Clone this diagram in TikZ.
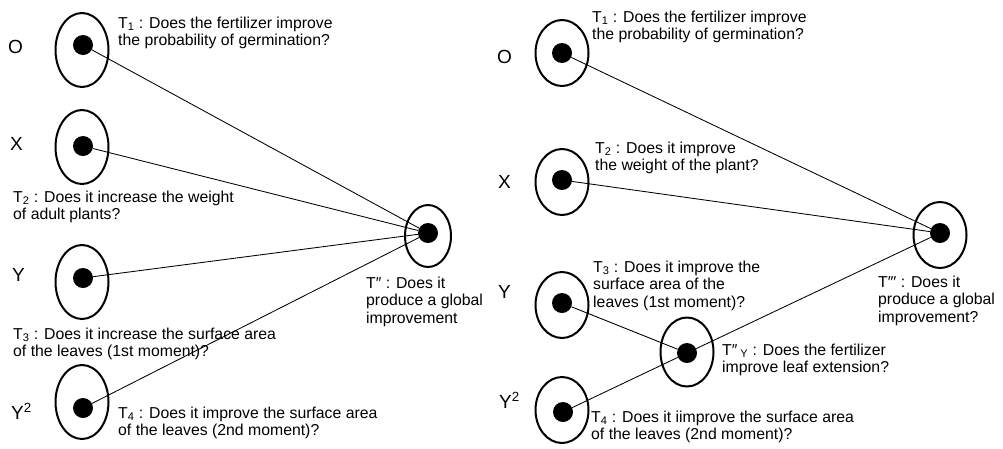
\documentclass[tikz,border=0pt]{standalone}
\usepackage{fontspec}
\setmainfont{Liberation Sans}
\usetikzlibrary{shapes.geometric}
\newcommand{\sub}[1]{\textsubscript{#1}}
\begin{document}
% text blocks are placed by the baseline of their last line
\begin{tikzpicture}[x=1pt,y=-1pt,
  ring/.style={draw,line width=2pt,ellipse,inner sep=0pt,minimum width=53pt,minimum height=66pt},
  bigring/.style={ring,minimum height=74pt},
  dot/.style={circle,fill=black,inner sep=0pt,minimum size=20pt},
  link/.style={line width=0.85pt},
  txt/.style={anchor=base west,align=left,inner sep=0pt,font=\fontsize{15.8}{17.6}\selectfont},
  var/.style={anchor=base west,inner sep=0pt,font=\fontsize{19}{22}\selectfont}]
\useasboundingbox (0,0) rectangle (1003,448);

% ---------- left diagram ----------
\node[bigring] (lOr) at (82,50) {};
\node[bigring] (lXr) at (82,147) {};
\node[bigring] (lYr) at (82,282) {};
\node[bigring] (lYYr) at (82,402) {};
\node[ring,minimum width=46pt,minimum height=62pt] (lTr) at (428,236) {};

\node[dot] (lO) at (83,45) {};
\node[dot] (lX) at (83,146) {};
\node[dot] (lY) at (83,278) {};
\node[dot] (lYY) at (83,408) {};
\node[dot] (lT) at (428,233) {};

\draw[link] (lO) -- (lT);
\draw[link] (lX) -- (lT);
\draw[link] (lY) -- (lT);
\draw[link] (lYY) -- (lT);

\node[var] (lOl) at (8,53) {O};
\node[var] (lXl) at (10,150) {X};
\node[var] (lYl) at (12,281) {Y};
\node[var] (lYYl) at (11,419) {Y\textsuperscript{2}};

\node[txt] (lt1) at (118,45.6) {T\sub{1} : Does the fertilizer improve\\the probability of germination?};
\node[txt] (lt2) at (13,219.6) {T\sub{2} : Does it increase the weight\\of adult plants?};
\node[txt] (lt3) at (13,356.6) {T\sub{3} : Does it increase the surface area\\of the leaves (1st moment)?};
\node[txt] (lt4) at (118,435.6) {T\sub{4} : Does it improve the surface area\\of the leaves (2nd moment)?};
\node[txt] (ltg) at (366,323.2) {T″ : Does it\\produce a global\\improvement};

% ---------- right diagram ----------
\node[ring] (rOr) at (562,53) {};
\node[ring] (rXr) at (562,182) {};
\node[ring] (rYr) at (562,305) {};
\node[ring] (rYYr) at (562,410) {};
\node[ring,minimum height=69pt] (rMr) at (687,352) {};
\node[ring] (rTr) at (940,235) {};

\node[dot] (rO) at (562,53) {};
\node[dot] (rX) at (562,180) {};
\node[dot] (rY) at (562,303) {};
\node[dot] (rYY) at (563,412) {};
\node[dot] (rM) at (687,353) {};
\node[dot] (rT) at (940,233) {};

\draw[link] (rO) -- (rT);
\draw[link] (rX) -- (rT);
\draw[link] (rY) -- (rM);
\draw[link] (rYY) -- (rM);
\draw[link] (rM) -- (rT);

\node[var] (rOl) at (497,63) {O};
\node[var] (rXl) at (498,188) {X};
\node[var] (rYl) at (498,298) {Y};
\node[var] (rYYl) at (499,408) {Y\textsuperscript{2}};

\node[txt] (rt1) at (592,39.6) {T\sub{1} : Does the fertilizer improve\\the probability of germination?};
\node[txt] (rt2) at (595,170.6) {T\sub{2} : Does it improve\\the weight of the plant?};
\node[txt] (rt3) at (593,307.2) {T\sub{3} : Does it improve the\\surface area of the\\leaves (1st moment)?};
\node[txt] (rtm) at (722,372.6) {T″\sub{\hspace{3pt}Y} : Does the fertilizer\\improve leaf extension?};
\node[txt] (rt4) at (591,439.6) {T\sub{4} : Does it iimprove the surface area\\of the leaves (2nd moment)?};
\node[txt] (rtg) at (878,322.2) {T″′ : Does it\\produce a global\\improvement?};
\end{tikzpicture}
\end{document}
